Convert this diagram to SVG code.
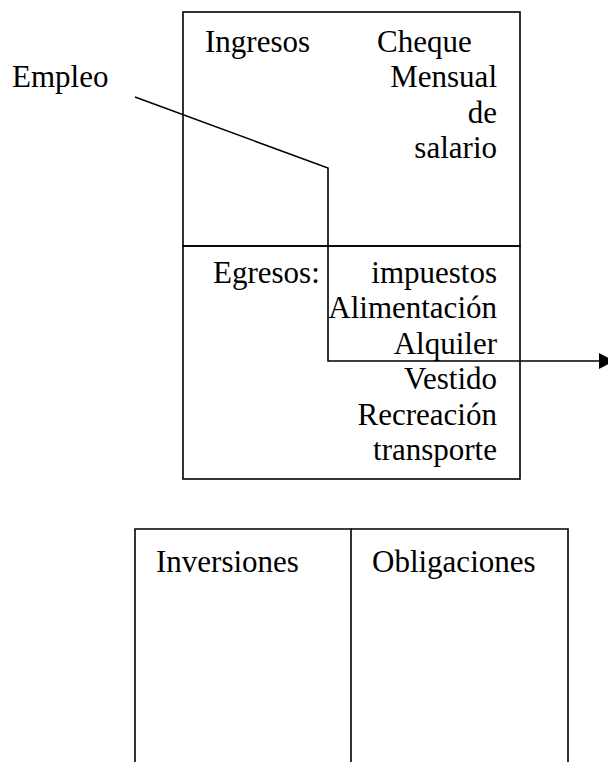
<svg xmlns="http://www.w3.org/2000/svg" width="608" height="762" viewBox="0 0 608 762">
<style>
.box{fill:none;stroke:#000;stroke-width:1.6}
.t{font-family:"Liberation Serif","Times New Roman",serif;font-size:31px;fill:#000}
.r{text-anchor:end}
.conn{fill:none;stroke:#000;stroke-width:1.6}
</style>
<defs>
<marker id="arr" markerUnits="userSpaceOnUse" markerWidth="16" markerHeight="18" refX="0" refY="8" orient="auto">
<path d="M0,0 L15,8 L0,16 Z" fill="#000"/>
</marker>
</defs>
<rect width="608" height="762" fill="#fff"/>
<g id="empleo">
<text class="t" x="12" y="86.7">Empleo</text>
</g>
<g id="ingresos">
<rect class="box" x="183" y="12" width="337" height="234"/>
<text class="t" x="205" y="51.7">Ingresos</text>
<text class="t" x="377" y="51.7">Cheque</text>
<text class="t r" x="497" y="87.2">Mensual</text>
<text class="t r" x="497" y="122.7">de</text>
<text class="t r" x="497" y="158.2">salario</text>
</g>
<g id="egresos">
<rect class="box" x="183" y="246" width="337" height="233"/>
<text class="t" x="213" y="283">Egresos:</text>
<text class="t r" x="497" y="283">impuestos</text>
<text class="t r" x="497" y="318.4">Alimentación</text>
<text class="t r" x="497" y="353.8">Alquiler</text>
<text class="t r" x="497" y="389.2">Vestido</text>
<text class="t r" x="497" y="424.6">Recreación</text>
<text class="t r" x="497" y="460">transporte</text>
</g>
<g id="inversiones">
<path class="box" d="M135,762 V529 H351 V762"/>
<text class="t" x="156" y="571.7">Inversiones</text>
</g>
<g id="obligaciones">
<path class="box" d="M351,529 H568 V762"/>
<text class="t" x="372" y="571.7">Obligaciones</text>
</g>
<g id="connectors">
<path class="conn" d="M135,97 L328,168 V361 H599" marker-end="url(#arr)"/>
</g>
</svg>
